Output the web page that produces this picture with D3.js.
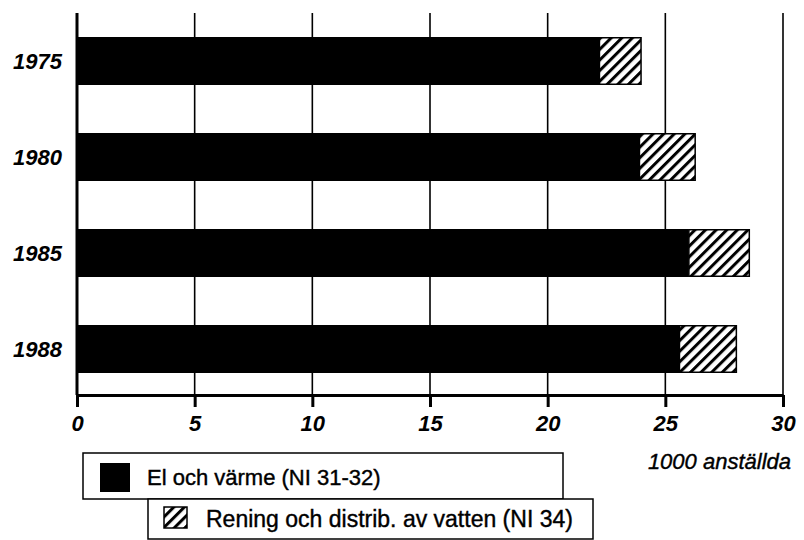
<!DOCTYPE html>
<html>
<head>
<meta charset="utf-8">
<script src="https://cdn.jsdelivr.net/npm/d3@7"></script>
<style>
  body { margin: 0; background: #fff; }
  svg { display: block; font-family: 'Liberation Sans', Arial, sans-serif; }
</style>
</head>
<body>
<svg id="chart" width="804" height="540"></svg>
<script>
'use strict';

// 1000 anställda per år
const years = ['1975', '1980', '1985', '1988'];
const elVarme = [22.2, 23.9, 26.0, 25.6];
const vatten = [1.8, 2.4, 2.6, 2.45];
const xTicks = [0, 5, 10, 15, 20, 25, 30];
const seriesNames = ['El och värme (NI 31-32)', 'Rening och distrib. av vatten (NI 34)'];

const svg = d3.select('#chart');

const x = d3.scaleLinear().domain([0, 30]).range([77, 783]);
const y = d3.scaleBand().domain(years).range([13, 397]).paddingInner(0.5).paddingOuter(0.25);
const axisY = 395;

// hatch pattern for the water series
const defs = svg.append('defs');
const pat = defs.append('pattern')
  .attr('id', 'hatch')
  .attr('patternUnits', 'userSpaceOnUse')
  .attr('width', 7.5)
  .attr('height', 7.5)
  .attr('patternTransform', 'rotate(45)');
pat.append('rect').attr('width', 7.5).attr('height', 7.5).attr('fill', '#fff');
pat.append('rect').attr('x', 0).attr('width', 3).attr('height', 7.5).attr('fill', '#000');

// vertical grid lines
svg.append('g')
  .selectAll('line')
  .data(xTicks)
  .join('line')
  .attr('x1', d => x(d))
  .attr('x2', d => x(d))
  .attr('y1', 13)
  .attr('y2', axisY)
  .attr('stroke', '#000')
  .attr('stroke-width', d => d === 0 ? 3 : 1.6);

// bars
const rows = years.map((yr, i) => ({ year: yr, el: elVarme[i], va: vatten[i] }));

svg.append('g')
  .selectAll('rect')
  .data(rows)
  .join('rect')
  .attr('x', x(0))
  .attr('y', d => y(d.year))
  .attr('width', d => x(d.el) - x(0))
  .attr('height', y.bandwidth())
  .attr('fill', '#000');

svg.append('g')
  .selectAll('rect')
  .data(rows)
  .join('rect')
  .attr('x', d => x(d.el))
  .attr('y', d => y(d.year) + 0.75)
  .attr('width', d => x(d.el + d.va) - x(d.el) - 0.75)
  .attr('height', y.bandwidth() - 1.5)
  .attr('fill', 'url(#hatch)')
  .attr('stroke', '#000')
  .attr('stroke-width', 1.5);

// year labels
svg.append('g')
  .selectAll('text')
  .data(years)
  .join('text')
  .attr('x', 62)
  .attr('y', d => y(d) + y.bandwidth() / 2)
  .attr('dy', '0.36em')
  .attr('text-anchor', 'end')
  .attr('font-size', 22)
  .attr('font-weight', 'bold')
  .attr('font-style', 'italic')
  .text(d => d);

// x axis
const xAxis = svg.append('g')
  .attr('transform', `translate(0,${axisY})`)
  .call(d3.axisBottom(x).tickValues(xTicks).tickSize(12).tickSizeOuter(0).tickPadding(8));
xAxis.select('.domain').attr('stroke-width', 3);
xAxis.selectAll('.tick line').attr('stroke-width', 3);
xAxis.selectAll('.tick text')
  .attr('font-family', "'Liberation Sans', Arial, sans-serif")
  .attr('font-size', 22)
  .attr('font-weight', 'bold')
  .attr('font-style', 'italic')
  .attr('fill', '#000');

svg.append('text')
  .attr('x', 791)
  .attr('y', 469)
  .attr('text-anchor', 'end')
  .attr('font-size', 22)
  .attr('font-style', 'italic')
  .attr('stroke', '#000')
  .attr('stroke-width', 0.4)
  .text('1000 anställda');

// legend
const legend = svg.append('g');
legend.append('rect')
  .attr('x', 83).attr('y', 453).attr('width', 480).attr('height', 46)
  .attr('fill', '#fff').attr('stroke', '#000').attr('stroke-width', 1.5);
legend.append('rect')
  .attr('x', 148).attr('y', 499).attr('width', 445).attr('height', 40)
  .attr('fill', '#fff').attr('stroke', '#000').attr('stroke-width', 1.5);
legend.append('rect')
  .attr('x', 100).attr('y', 463).attr('width', 30).attr('height', 29)
  .attr('fill', '#000');
legend.append('rect')
  .attr('x', 164).attr('y', 507).attr('width', 23).attr('height', 21)
  .attr('fill', 'url(#hatch)').attr('stroke', '#000').attr('stroke-width', 1.5);
legend.append('text')
  .attr('x', 147).attr('y', 485)
  .attr('font-size', 22)
  .attr('stroke', '#000').attr('stroke-width', 0.4)
  .text(seriesNames[0]);
legend.append('text')
  .attr('x', 206).attr('y', 527)
  .attr('font-size', 23)
  .attr('stroke', '#000').attr('stroke-width', 0.4)
  .text(seriesNames[1]);
</script>
</body>
</html>
